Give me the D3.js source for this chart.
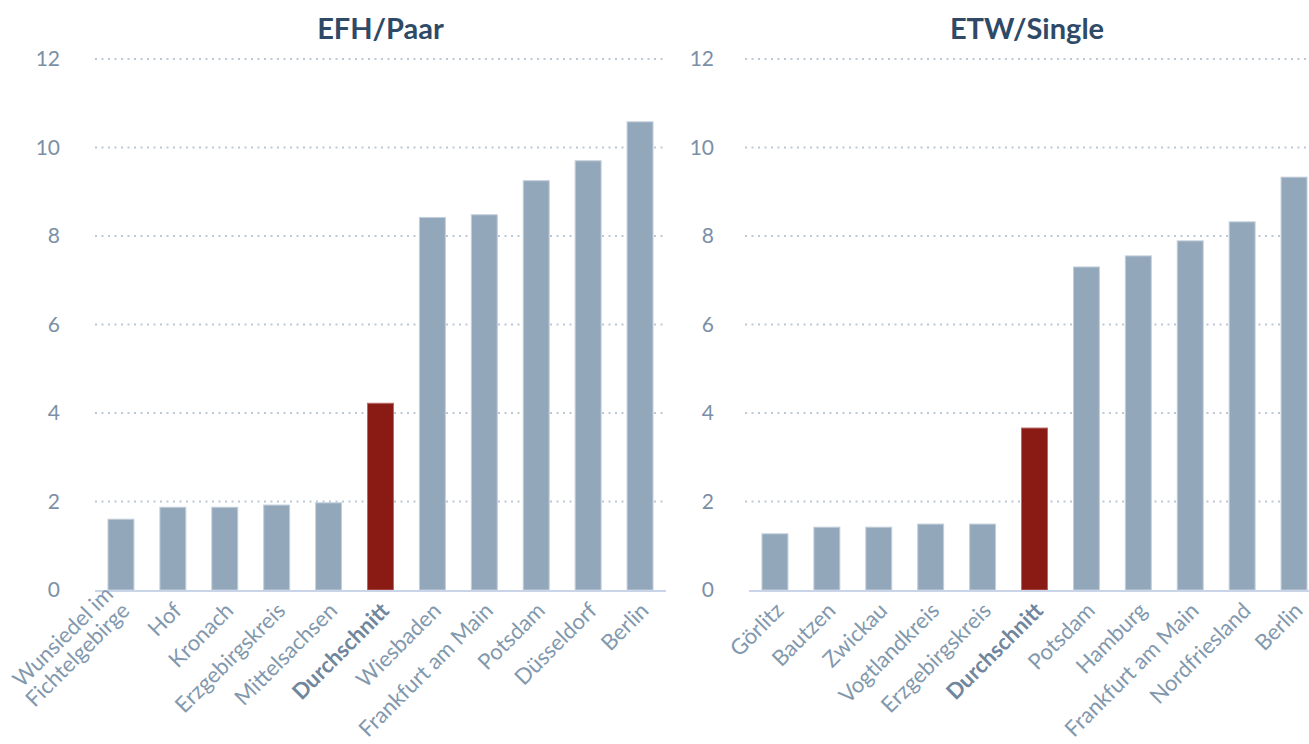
<!DOCTYPE html>
<html>
<head>
<meta charset="utf-8">
<script src="https://cdn.jsdelivr.net/npm/d3@7"></script>
<style>
  body { margin: 0; background: #fff; font-family: Lato, "Noto Sans", sans-serif; }
  svg { display: block; }
</style>
</head>
<body>
<script>
// data
const efhLabels = ["Wunsiedel im|Fichtelgebirge", "Hof", "Kronach", "Erzgebirgskreis", "Mittelsachsen",
                   "Durchschnitt", "Wiesbaden", "Frankfurt am Main", "Potsdam", "Düsseldorf", "Berlin"];
const efhValues = [1.6, 1.87, 1.87, 1.92, 1.97, 4.22, 8.42, 8.48, 9.25, 9.7, 10.58];

const etwLabels = ["Görlitz", "Bautzen", "Zwickau", "Vogtlandkreis", "Erzgebirgskreis",
                   "Durchschnitt", "Potsdam", "Hamburg", "Frankfurt am Main", "Nordfriesland", "Berlin"];
const etwValues = [1.27, 1.42, 1.42, 1.49, 1.49, 3.66, 7.3, 7.55, 7.89, 8.32, 9.33];

const yTicks = [0, 2, 4, 6, 8, 10, 12];
const avgLabel = "Durchschnitt";

const W = 1309, H = 744;
const svg = d3.select("body").append("svg")
    .attr("width", W)
    .attr("height", H);

const y = d3.scaleLinear().domain([0, 12]).range([590, 59]);

function panel(title, labels, values, x0, x1, tickX, gridX0, gridX1) {
    const g = svg.append("g");

    const x = d3.scaleBand()
        .domain(labels)
        .range([x0, x1])
        .paddingInner(0.5)
        .paddingOuter(0.25);

    // title
    g.append("text")
        .attr("x", (gridX0 + Math.min(gridX1, x1)) / 2)
        .attr("y", 39)
        .attr("text-anchor", "middle")
        .style("font-size", "29px")
        .style("font-weight", "bold")
        .style("fill", "#2e4a66")
        .text(title);

    // grid
    g.selectAll(".grid")
        .data(yTicks.filter(d => d > 0))
        .enter()
        .append("line")
            .attr("x1", gridX0)
            .attr("x2", gridX1)
            .attr("y1", d => y(d))
            .attr("y2", d => y(d))
            .attr("stroke", "#bcc8d6")
            .attr("stroke-width", 2)
            .attr("stroke-dasharray", "2,4.5");

    // y tick labels
    g.selectAll(".ytick")
        .data(yTicks)
        .enter()
        .append("text")
            .attr("x", tickX)
            .attr("y", d => y(d))
            .attr("dy", "0.35em")
            .attr("text-anchor", "end")
            .style("font-size", "21px")
            .style("fill", "#7b90a6")
            .text(d => d);

    // bars
    g.selectAll(".bar")
        .data(labels)
        .enter()
        .append("rect")
            .attr("x", d => x(d))
            .attr("y", (d, i) => y(values[i]))
            .attr("width", x.bandwidth())
            .attr("height", (d, i) => y(0) - y(values[i]))
            .attr("fill", d => d === avgLabel ? "#8a1a14" : "#93a7ba")
            .attr("stroke", d => d === avgLabel ? "#b86a66" : "#c3cfdb")
            .attr("stroke-width", 1);

    // baseline
    g.append("line")
        .attr("x1", x0)
        .attr("x2", x1)
        .attr("y1", y(0) + 1)
        .attr("y2", y(0) + 1)
        .attr("stroke", "#c9d4e8")
        .attr("stroke-width", 2);

    // category labels
    const lab = g.selectAll(".xlab")
        .data(labels)
        .enter()
        .append("text")
            .attr("transform", d => "translate(" + (x(d) + x.bandwidth() / 2 + 10) + "," + 612 + ") rotate(-45)")
            .attr("text-anchor", "end")
            .style("font-size", "22px")
            .style("font-weight", d => d === avgLabel ? "bold" : "normal")
            .style("fill", d => d === avgLabel ? "#6f869d" : "#8298ad");

    lab.each(function(d) {
        const parts = d.split("|");
        const t = d3.select(this);
        parts.forEach((p, i) => {
            t.append("tspan")
                .attr("x", 0)
                .attr("dy", i === 0 ? (-(parts.length - 1) * 1.05) + "em" : "1.05em")
                .text(p);
        });
    });
}

panel("EFH/Paar", efhLabels, efhValues, 95, 666, 60, 95, 666);
panel("ETW/Single", etwLabels, etwValues, 749, 1320, 714, 745, 1309);
</script>
</body>
</html>
